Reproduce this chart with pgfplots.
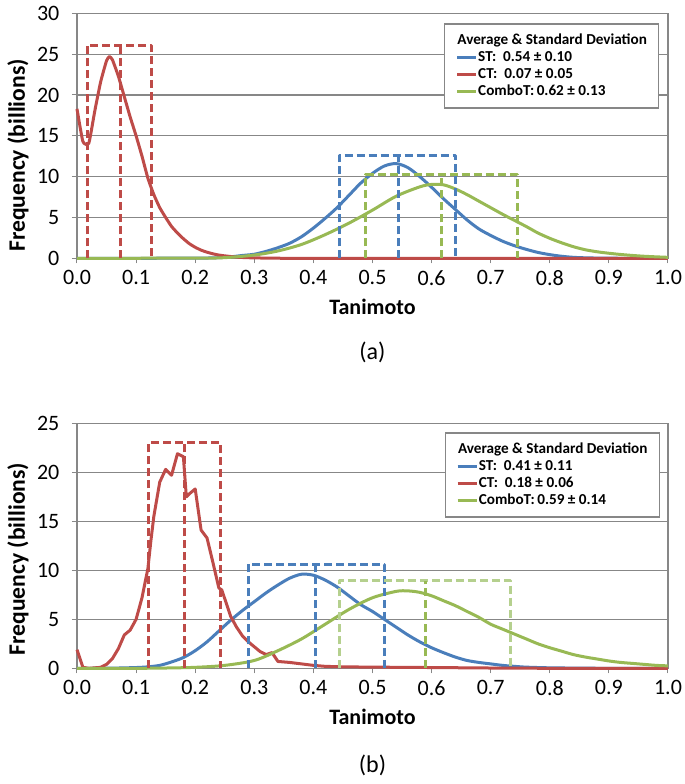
\documentclass[border=0pt]{standalone}
\usepackage{pgfplots}
\pgfplotsset{compat=1.18}
\usepackage{fontspec}
\setmainfont{Carlito}
\newlength\pxu \setlength\pxu{0.5pt}
\definecolor{cblue}{HTML}{4A7EBB}
\definecolor{cred}{HTML}{BE4B48}
\definecolor{cgreen}{HTML}{98B954}
\definecolor{clgreen}{HTML}{B5D08E}
\definecolor{cgrid}{HTML}{878787}
\pgfplotsset{
 mystyle/.style={
  scale only axis, width=591\pxu, height=245\pxu,
  xmin=0, xmax=1, ymin=0,
  xtick={0,0.1,0.2,0.3,0.4,0.5,0.6,0.7,0.8,0.9,1},
  tick pos=left,
  tick align=outside, major tick length=2.5pt,
  tick style={cgrid, line width=0.5pt},
  axis line style={cgrid, line width=0.6pt},
  ymajorgrids, grid style={cgrid, line width=0.6pt},
  xticklabel style={/pgf/number format/.cd, fixed, fixed zerofill, precision=1},
  yticklabel style={xshift=-2.8pt},
  /pgf/number format/assume math mode=true,
  tick label style={font=\fontsize{11}{13}\selectfont},
  xlabel={\textbf{Tanimoto}}, ylabel={\textbf{Frequency (billions)}},
  xlabel style={font=\fontsize{11}{13}\selectfont, at={(axis description cs:0.5,-0.200)}, anchor=center},
  ylabel style={font=\fontsize{11.8}{13}\selectfont, anchor=center},
  clip=false,
  legend cell align=left,
  legend image code/.code={\draw[##1] (0pt,0pt) -- (9.5pt,0pt);},
  every axis plot/.append style={line join=round},
 },
 mylegend/.style={legend style={anchor=north east, draw=cgrid, line width=0.6pt, fill=white,
   font=\bfseries\fontsize{7.6}{9}\selectfont, inner xsep=5.5pt, inner ysep=4.5pt, row sep=1pt,
   nodes={inner sep=0.3pt, text height=5.4pt, text depth=1.5pt}}},
 curve/.style={line width=1.5pt, no markers},
 dbox/.style={line width=1.5pt, dash pattern=on 4pt off 2pt, no markers, forget plot},
}
\begin{document}
\begin{tikzpicture}
\useasboundingbox (0,0) rectangle (685\pxu,-784\pxu);
% ---------------- (a) ----------------
\begin{axis}[mystyle, mylegend, at={(77\pxu,-258.3\pxu)}, anchor=south west,
  ymax=30, ytick={0,5,10,15,20,25,30},
  ylabel style={at={(axis description cs:-0.100,0.42)}},
  legend style={at={(rel axis cs:0.985,0.959)}}]
\addlegendimage{empty legend}
\addlegendentry{\hspace{-10.4pt}Average \& Standard Deviation}
\addplot[curve, cblue, smooth, tension=0.5] coordinates {
(0,0)(0.2,0.02)(0.25,0.12)(0.28,0.35)(0.30,0.5)(0.32,0.85)(0.34,1.3)(0.36,1.85)(0.38,2.65)(0.40,3.7)(0.42,4.9)(0.44,6.2)(0.46,7.7)(0.48,9.2)(0.50,10.4)(0.52,11.3)(0.54,11.6)(0.56,11.1)(0.58,10.0)(0.60,8.7)(0.62,7.3)(0.64,6.0)(0.66,4.7)(0.68,3.6)(0.70,2.8)(0.72,2.1)(0.74,1.55)(0.76,1.1)(0.78,0.72)(0.80,0.45)(0.82,0.25)(0.84,0.12)(0.86,0.06)(0.88,0.03)(0.90,0.01)(1.0,0)};
\addlegendentry{ST:\ \ 0.54 ± 0.10}
\addplot[curve, cred, smooth, tension=0.3] coordinates {
(0,18.3)(0.01,14.3)(0.02,14.1)(0.03,18.0)(0.04,21.6)(0.05,24.2)(0.055,24.7)(0.06,24.3)(0.07,22.3)(0.08,19.8)(0.09,17.3)(0.10,15.0)(0.11,12.5)(0.12,9.8)(0.13,7.8)(0.14,6.2)(0.15,5.0)(0.16,3.9)(0.17,3.1)(0.18,2.4)(0.19,1.8)(0.20,1.35)(0.21,1.0)(0.22,0.75)(0.23,0.55)(0.24,0.4)(0.25,0.3)(0.26,0.22)(0.27,0.15)(0.28,0.1)(0.30,0.05)(0.33,0.02)(0.36,0)(0.5,0)(0.7,0)(1.0,0)};
\addlegendentry{CT:\ \ 0.07 ± 0.05}
\addplot[curve, cgreen, smooth, tension=0.5] coordinates {
(0,0)(0.2,0.02)(0.25,0.08)(0.30,0.4)(0.34,0.9)(0.38,1.7)(0.42,2.9)(0.46,4.3)(0.50,5.9)(0.54,7.6)(0.58,8.75)(0.60,9.05)(0.62,9.0)(0.64,8.5)(0.66,7.8)(0.68,7.0)(0.70,6.2)(0.72,5.4)(0.74,4.65)(0.76,3.9)(0.78,3.1)(0.80,2.45)(0.82,1.9)(0.84,1.42)(0.86,1.05)(0.88,0.8)(0.90,0.62)(0.92,0.47)(0.94,0.35)(0.96,0.25)(0.98,0.18)(1.00,0.12)};
\addlegendentry{ComboT:\,0.62 ± 0.13}
% dashed boxes
\addplot[dbox, cred] coordinates {(0.018,0)(0.018,26.1)(0.126,26.1)(0.126,0)};
\addplot[dbox, cred] coordinates {(0.073,0)(0.073,26.1)};
\addplot[dbox, cblue] coordinates {(0.445,0)(0.445,12.65)(0.641,12.65)(0.641,0)};
\addplot[dbox, cblue] coordinates {(0.544,0)(0.544,12.65)};
\addplot[dbox, cgreen] coordinates {(0.489,0)(0.489,10.3)(0.745,10.3)(0.745,0)};
\addplot[dbox, cgreen] coordinates {(0.617,0)(0.617,10.3)};
\node[font=\fontsize{12}{14}\selectfont] at (axis description cs:0.5,-0.382) {(a)};
\end{axis}
% ---------------- (b) ----------------
\begin{axis}[mystyle, mylegend, at={(77\pxu,-668.3\pxu)}, anchor=south west,
  ymax=25, ytick={0,5,10,15,20,25},
  ylabel style={at={(axis description cs:-0.100,0.446)}},
  legend style={at={(rel axis cs:0.986,0.963)}}]
\addlegendimage{empty legend}
\addlegendentry{\hspace{-10.4pt}Average \& Standard Deviation}
\addplot[curve, cblue, smooth, tension=0.5] coordinates {
(0,0)(0.06,0.02)(0.10,0.08)(0.12,0.15)(0.14,0.3)(0.16,0.65)(0.18,1.1)(0.20,1.8)(0.22,2.7)(0.24,3.8)(0.26,4.9)(0.28,5.9)(0.30,6.8)(0.32,7.7)(0.34,8.5)(0.36,9.2)(0.38,9.6)(0.40,9.5)(0.42,9.0)(0.44,8.3)(0.46,7.4)(0.48,6.5)(0.50,5.8)(0.52,5.0)(0.54,4.2)(0.56,3.4)(0.58,2.7)(0.60,2.1)(0.62,1.6)(0.64,1.15)(0.66,0.8)(0.68,0.6)(0.70,0.45)(0.72,0.3)(0.74,0.2)(0.76,0.12)(0.80,0.05)(0.85,0.02)(0.90,0)(1.0,0)};
\addlegendentry{ST:\ \ 0.41 ± 0.11}
\addplot[curve, cred] coordinates {
(0.000,1.9)(0.010,0.1)(0.020,0.0)(0.030,0.05)(0.040,0.1)(0.050,0.4)(0.060,1.0)(0.070,2.0)(0.080,3.4)(0.090,3.9)(0.100,5.0)(0.110,7.2)(0.120,10.2)(0.125,13.0)(0.130,15.5)(0.140,19.0)(0.150,20.3)(0.160,19.7)(0.170,21.9)(0.180,21.6)(0.185,17.5)(0.190,17.8)(0.200,18.3)(0.210,14.1)(0.220,13.3)(0.230,10.8)(0.240,8.2)(0.245,8.0)(0.260,5.3)(0.270,4.2)(0.280,3.3)(0.290,2.7)(0.300,2.2)(0.310,1.7)(0.320,1.4)(0.330,1.6)(0.340,0.7)(0.360,0.6)(0.380,0.45)(0.400,0.3)(0.420,0.2)(0.450,0.15)(0.500,0.12)(0.600,0.08)(0.700,0.03)(0.800,0.0)(1.000,0.0)};
\addlegendentry{CT:\ \ 0.18 ± 0.06}
\addplot[curve, cgreen, smooth, tension=0.5] coordinates {
(0,0)(0.10,0.0)(0.15,0.03)(0.20,0.1)(0.25,0.3)(0.30,0.8)(0.34,1.8)(0.38,3.0)(0.42,4.5)(0.46,6.0)(0.50,7.2)(0.54,7.85)(0.56,7.9)(0.58,7.75)(0.60,7.4)(0.62,6.9)(0.64,6.4)(0.66,5.8)(0.68,5.2)(0.70,4.5)(0.72,4.0)(0.74,3.5)(0.76,3.0)(0.78,2.5)(0.80,2.1)(0.82,1.75)(0.84,1.4)(0.86,1.15)(0.88,0.95)(0.90,0.75)(0.92,0.6)(0.94,0.5)(0.96,0.4)(0.98,0.3)(1.00,0.25)};
\addlegendentry{ComboT:\,0.59 ± 0.14}
\addplot[dbox, cred] coordinates {(0.121,0)(0.121,23.0)(0.243,23.0)(0.243,0)};
\addplot[dbox, cred] coordinates {(0.182,0)(0.182,23.0)};
\addplot[dbox, cblue] coordinates {(0.290,0)(0.290,10.64)(0.520,10.64)(0.520,0)};
\addplot[dbox, cblue] coordinates {(0.404,0)(0.404,10.64)};
\addplot[dbox, clgreen] coordinates {(0.444,0)(0.444,8.94)(0.734,8.94)(0.734,0)};
\addplot[dbox, cgreen] coordinates {(0.590,0)(0.590,8.94)};
\node[font=\fontsize{12}{14}\selectfont] at (axis description cs:0.5,-0.395) {(b)};
\end{axis}
\end{tikzpicture}
\end{document}
